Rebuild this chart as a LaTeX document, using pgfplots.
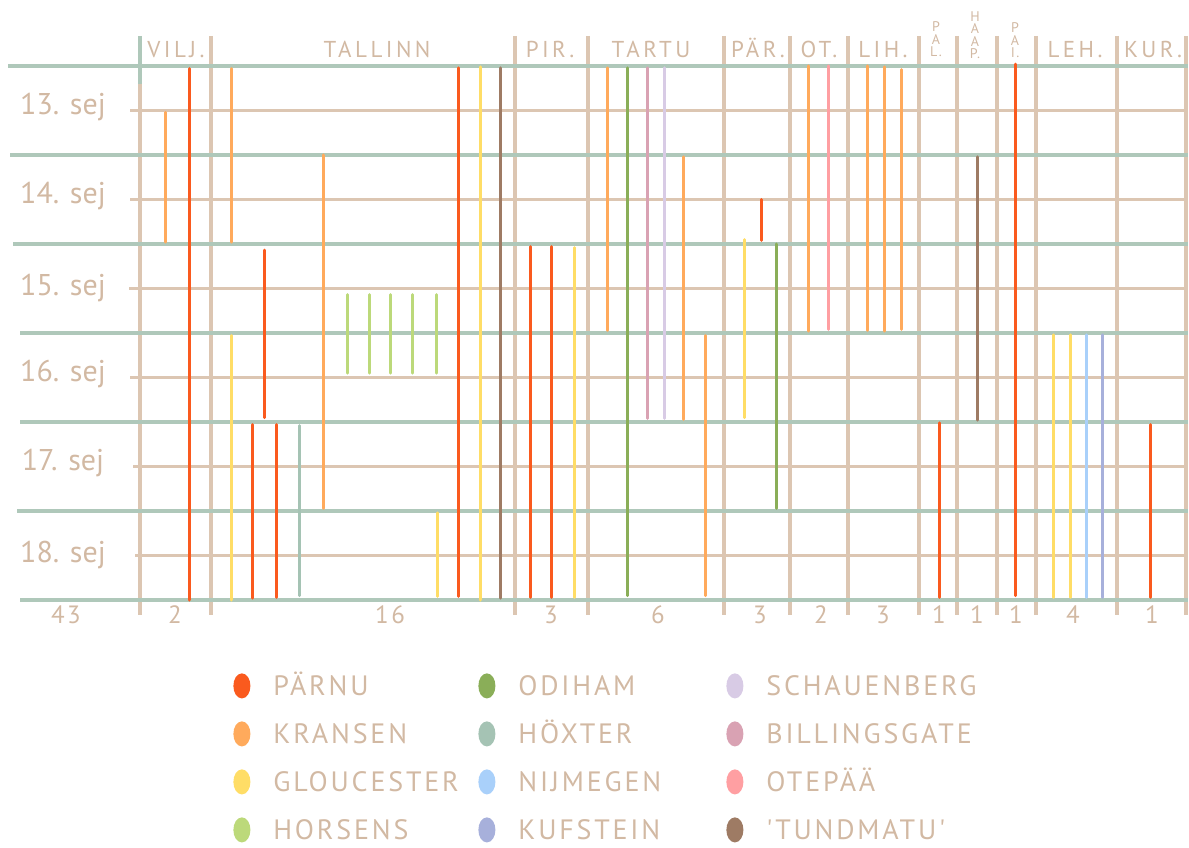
\documentclass[border=0pt]{standalone}
\usepackage{fontspec}
\setmainfont{PT Sans}
\newfontfamily\hand[LetterSpace=10]{PT Sans}
\newfontfamily\handtop[LetterSpace=15]{PT Sans}
\newfontfamily\handday{PT Sans}
\usepackage{pgfplots}
\pgfplotsset{compat=1.18}
\definecolor{parnu}{HTML}{FA5A1E}
\definecolor{kransen}{HTML}{FFAA5C}
\definecolor{glou}{HTML}{FFDD66}
\definecolor{horsens}{HTML}{BCD97A}
\definecolor{odiham}{HTML}{8AAE58}
\definecolor{hoxter}{HTML}{A5C3B4}
\definecolor{nijm}{HTML}{A9D0FA}
\definecolor{kufs}{HTML}{A7B0DB}
\definecolor{schau}{HTML}{D8CBE5}
\definecolor{bill}{HTML}{D9A2B3}
\definecolor{otep}{HTML}{FF9FA2}
\definecolor{tund}{HTML}{9E7B64}
\definecolor{gridg}{HTML}{AFC8BA}
\definecolor{gridb}{HTML}{DCC6B2}
\definecolor{txtc}{HTML}{D2B9A3}
\newcommand{\Y}[1]{13+(#1-66)/89}
\newcommand{\LW}[2]{\makebox[#1][l]{#2}}
\newcommand{\stackfont}{\hand\fontsize{7}{6.3}\selectfont\lineskiplimit=-10pt\relax}
\begin{document}
\begin{tikzpicture}
\begin{axis}[
  x=0.5pt, y=44.5pt, y dir=reverse,
  xmin=0, xmax=1189, ymin=12.25843, ymax=21.77528,
  hide axis, clip=false, unbounded coords=jump,
  every axis plot/.append style={line width=1.5pt, line cap=round},
  legend image code/.code={\fill[#1] (3.5pt,0pt) ellipse (3.5pt and 5.5pt); \path (0pt,0pt) (18.5pt,0pt);},
  legend style={at={(axis cs:233,{\Y{673}})}, anchor=north west, draw=none, fill=none,
    legend columns=3, inner sep=0pt, column sep=0pt, row sep=11.5pt,
    font=\hand\fontsize{14}{14}\selectfont, text=txtc,
    nodes={inner sep=0pt, text height=10pt, text depth=0pt}},
]
\path (axis cs:0,12.25843) rectangle (axis cs:1189,21.77528);
% mid-day lines
\foreach \d/\s in {13.5/130,14.5/130,15.5/129,16.5/130,17.5/133,18.5/135}{
  \edef\tmp{\noexpand\draw[gridb, line width=1.7pt] (axis cs:\s,\d) -- (axis cs:1186,\d);}\tmp}
% separators
\foreach \x in {211,515,588,724,790,848,919,957,997,1036,1117,1186}{
  \edef\tmp{\noexpand\draw[gridb, line width=1.7pt] (axis cs:\x,12.663) -- (axis cs:\x,19.169);}\tmp}
\draw[gridb, line width=1.7pt] (axis cs:140,13.2) -- (axis cs:140,19.169);
\draw[gridg, line width=1.7pt] (axis cs:140,12.663) -- (axis cs:140,13.2);
% day boundary lines
\foreach \d/\s in {13/8,14/10,15/13,16/20,17/20,18/17,19/20}{
  \edef\tmp{\noexpand\draw[gridg, line width=2pt] (axis cs:\s,\d) -- (axis cs:1188,\d);}\tmp}

% row 1
\addplot[parnu] coordinates {(189,13.03) (189,19.0) (189,nan) (264,15.07) (264,16.95) (264,nan)
 (252,17.03) (252,18.98) (252,nan) (276,17.03) (276,18.97) (276,nan) (458,13.02) (458,18.96) (458,nan)
 (530,15.03) (530,18.97) (530,nan) (551,15.03) (551,18.97) (551,nan) (761,14.5) (761,14.96) (761,nan)
 (939,17.01) (939,18.97) (939,nan) (1015,12.98) (1015,18.95) (1015,nan) (1150,17.03) (1150,18.97)};
\addlegendentry{\LW{102.5pt}{PÄRNU}}
\addplot[odiham] coordinates {(627,13.02) (627,18.95) (627,nan) (776,15.0) (776,17.97)};
\addlegendentry{\LW{104pt}{ODIHAM}}
\addplot[schau] coordinates {(664,13.02) (664,16.96)};
\addlegendentry{\LW{110pt}{SCHAUENBERG}}
% row 2
\addplot[kransen] coordinates {(165,13.52) (165,14.98) (165,nan) (231,13.03) (231,14.98) (231,nan)
 (323,14.0) (323,17.97) (323,nan) (607,13.02) (607,15.97) (607,nan) (683,14.02) (683,16.97) (683,nan)
 (705,16.03) (705,18.95) (705,nan) (808,13.0) (808,15.98) (808,nan) (867,13.0) (867,15.97) (867,nan)
 (884,13.01) (884,15.98) (884,nan) (901,13.04) (901,15.96)};
\addlegendentry{\LW{102.5pt}{KRANSEN}}
\addplot[hoxter] coordinates {(299,17.04) (299,18.95)};
\addlegendentry{\LW{104pt}{HÖXTER}}
\addplot[bill] coordinates {(647,13.02) (647,16.96)};
\addlegendentry{\LW{110pt}{BILLINGSGATE}}
% row 3
\addplot[glou] coordinates {(231,16.03) (231,19.0) (231,nan) (437,18.02) (437,18.96) (437,nan)
 (480,13.01) (480,19.0) (480,nan) (574,15.04) (574,18.97) (574,nan) (744,14.95) (744,16.95) (744,nan)
 (1053,16.02) (1053,18.97) (1053,nan) (1070,16.02) (1070,18.97)};
\addlegendentry{\LW{102.5pt}{GLOUCESTER}}
\addplot[nijm] coordinates {(1086,16.02) (1086,18.97)};
\addlegendentry{\LW{104pt}{NIJMEGEN}}
\addplot[otep] coordinates {(828,13.0) (828,15.96)};
\addlegendentry{\LW{110pt}{OTEPÄÄ}}
% row 4
\addplot[horsens] coordinates {(347,15.57) (347,16.45) (347,nan) (369,15.57) (369,16.45) (369,nan)
 (390,15.57) (390,16.45) (390,nan) (412,15.57) (412,16.45) (412,nan) (436,15.57) (436,16.45)};
\addlegendentry{\LW{102.5pt}{HORSENS}}
\addplot[kufs] coordinates {(1102,16.02) (1102,18.97)};
\addlegendentry{\LW{104pt}{KUFSTEIN}}
\addplot[tund] coordinates {(500,13.02) (500,18.98) (500,nan) (977,14.02) (977,16.98)};
\addlegendentry{\LW{110pt}{'TUNDMATU'}}

% day labels
\foreach \t/\b in {13/115,14/204,15/296,16/382,17/471,18/562}{
  \edef\tmp{\noexpand\node[anchor=base, text=txtc, font=\noexpand\handday\noexpand\fontsize{15}{15}\noexpand\selectfont] at (axis cs:63,{\Y{\b}}) {\t. sej};}\tmp}
% top labels
\foreach \n/\x in {VILJ./176,TALLINN/377,PIR./550,TARTU/651,PÄR./758,OT./819,LIH./883,LEH./1075,KUR./1153}{
  \edef\tmp{\noexpand\node[anchor=base, text=txtc, font=\noexpand\handtop\noexpand\fontsize{11.5}{11.5}\noexpand\selectfont] at (axis cs:\x,{\Y{58}}) {\n};}\tmp}
\node[anchor=base, text=txtc, align=center, inner sep=0pt, font=\stackfont] at (axis cs:936,{\Y{57}}) {P\\A\\L.};
\node[anchor=base, text=txtc, align=center, inner sep=0pt, font=\stackfont] at (axis cs:975,{\Y{59}}) {H\\A\\A\\P.};
\node[anchor=base, text=txtc, align=center, inner sep=0pt, font=\stackfont] at (axis cs:1015,{\Y{58}}) {P\\A\\I.};
% counts
\foreach \n/\x in {43/66,2/175,16/390,3/551,6/658,3/760,2/821,3/883,1/939,1/977,1/1016,4/1073,1/1152}{
  \edef\tmp{\noexpand\node[anchor=base, text=txtc, font=\noexpand\hand\noexpand\fontsize{12.5}{12.5}\noexpand\selectfont] at (axis cs:\x,{\Y{623}}) {\n};}\tmp}
\end{axis}
\pgfresetboundingbox
\path (current axis.south west) rectangle (current axis.north east);
\end{tikzpicture}
\end{document}
